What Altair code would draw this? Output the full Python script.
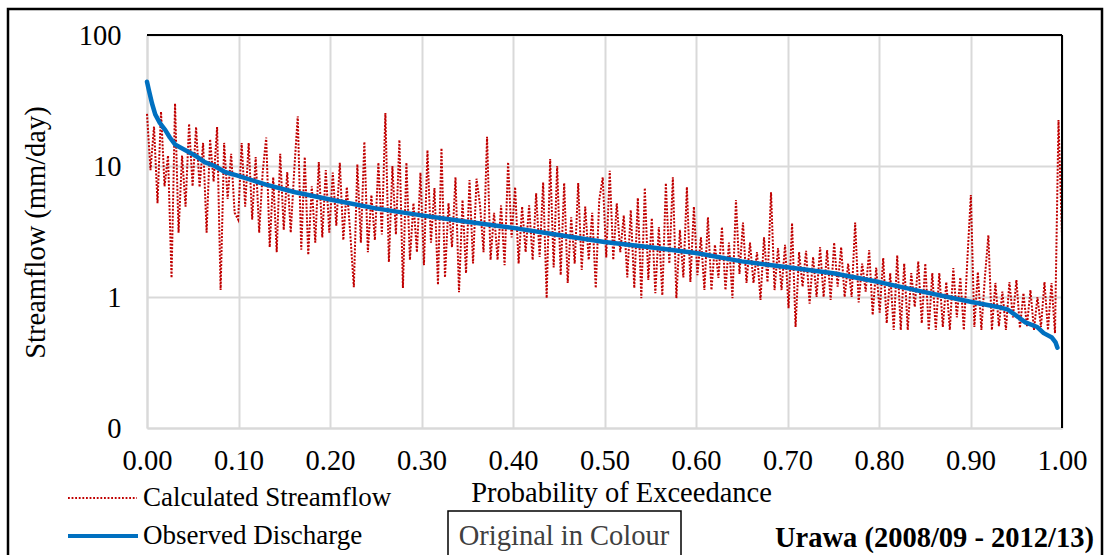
import altair as alt
import pandas as pd

# Calculated streamflow (mm/day), read left to right along the exceedance axis
calc_flow = [
    25, 9.3, 20, 5.2, 26, 7, 12, 1.4, 30, 3.1, 12, 4.9, 21,
    7, 19.8, 6.9, 15, 3.1, 16, 7.6, 19.8, 1.13, 15, 5.6, 12.4, 4.4,
    3.9, 15, 4.9, 15, 3.9, 11.7, 3.1, 9, 16.5, 2.4, 8.2, 2.2, 12.4,
    3.25, 9, 3.1, 9.3, 24, 2.3, 11.7, 2.1, 7, 2.6, 10.7, 2.85, 9.3,
    3.1, 8.9, 3.5, 10.6, 2.72, 6.9, 3, 1.19, 10.3, 2.6, 15.3, 2.2, 6,
    2.72, 10.6, 3, 25.4, 1.85, 10, 3, 15.8, 1.17, 10.6, 1.92, 5.2, 2.2,
    8.9, 1.75, 13.2, 2.6, 6.8, 1.24, 13.7, 1.41, 5.2, 2.4, 8.2, 1.09, 5.5,
    1.52, 7.8, 1.8, 8, 5, 2.2, 16.7, 1.92, 4.4, 1.92, 5, 1.75, 10.7,
    2.85, 6.9, 1.8, 4.9, 2.2, 5.0, 1.92, 6.2, 2.02, 7.5, 0.98, 11.3, 1.68,
    10, 1.47, 7.4, 1.28, 4.06, 1.8, 7.4, 1.61, 4.9, 1.92, 4.4, 1.17, 5.5,
    8.2, 2.0, 9.2, 1.92, 5.2, 2.2, 4.2, 1.41, 4.6, 1.17, 5.7, 0.98, 6.8,
    1.35, 4, 1.07, 3.42, 1.03, 7.4, 1.8, 8.2, 0.98, 3.25, 1.41, 6.9, 1.3,
    4.9, 1.47, 2.85, 1.13, 4.06, 1.13, 2.5, 1.4, 3.42, 1.13, 2.6, 0.98, 5.5,
    1.5, 3.7, 1.28, 2.6, 1.28, 2.2, 0.95, 2.85, 1.3, 6.3, 1.13, 2.36, 1.13,
    2.5, 0.82, 3.66, 0.59, 2.2, 1.2, 2.25, 0.89, 2.02, 1.0, 2.4, 1.0, 2.28,
    0.95, 2.6, 1.2, 2.4, 1.0, 1.8, 1.0, 3.7, 0.91, 1.8, 1.1, 2.28, 0.73,
    1.68, 0.76, 1.98, 0.63, 1.52, 0.56, 2.08, 0.56, 1.8, 0.56, 1.52, 0.84, 1.87,
    0.63, 1.8, 0.56, 1.52, 0.56, 1.52, 0.59, 1.3, 0.56, 1.66, 0.7, 1.41, 0.56,
    1.92, 6.0, 0.59, 1.55, 0.56, 1.41, 2.96, 0.56, 1.28, 0.6, 1.1, 0.56, 1.3,
    0.7, 1.35, 0.58, 1.07, 0.6, 1.13, 0.56, 1.0, 0.59, 1.3, 0.56, 1.28, 0.53, 22.4, 2.9,
]

# Observed discharge (flow duration curve)
obs_prob = [0.0, 0.002, 0.0055, 0.009, 0.014, 0.02, 0.025, 0.031, 0.042, 0.052,
            0.063, 0.074, 0.085, 0.1, 0.13, 0.162, 0.2, 0.25, 0.3, 0.35,
            0.4, 0.45, 0.5, 0.55, 0.6, 0.65, 0.7, 0.75, 0.8, 0.85,
            0.9, 0.93, 0.941, 0.95, 0.96, 0.973, 0.98, 0.989, 0.993, 0.995]
obs_flow = [44, 38, 30, 24.8, 21.3, 18.8, 16.5, 14.5, 13.2, 12.1,
            10.7, 10.0, 9.0, 8.4, 7.2, 6.3, 5.55, 4.75, 4.2, 3.75,
            3.37, 2.97, 2.63, 2.4, 2.17, 1.87, 1.69, 1.52, 1.30, 1.09,
            0.92, 0.84, 0.80, 0.72, 0.64, 0.59, 0.53, 0.49, 0.45, 0.41]

x_ticks = [0.0, 0.1, 0.2, 0.3, 0.4, 0.5, 0.6, 0.7, 0.8, 0.9, 1.0]
y_ticks = [0.1, 1, 10, 100]
legend_labels = ["Calculated Streamflow", "Observed Discharge"]
note_text = "Original in Colour"
site_text = "Urawa (2008/09 - 2012/13)"

FONT = "Liberation Serif, Times New Roman, serif"
FS = 28.5
LFS = 27

n = len(calc_flow)
calc_df = pd.DataFrame({"prob": [i / (n - 1) for i in range(n)], "flow": calc_flow})
obs_df = pd.DataFrame({"prob": obs_prob, "flow": obs_flow})
one = pd.DataFrame({"k": [0]})

xenc = alt.X("prob:Q",
             scale=alt.Scale(domain=[0, 1], nice=False, zero=False),
             axis=alt.Axis(values=x_ticks, format=".2f", title="Probability of Exceedance",
                           labelBaseline="middle", labelPadding=32, labelFlush=False,
                           titleX=474, titleY=64, titleBaseline="middle", titleAlign="center"))
yenc = alt.Y("flow:Q",
             scale=alt.Scale(type="log", domain=[0.1, 100], nice=False),
             axis=alt.Axis(values=y_ticks,
                           labelExpr="datum.value < 1 ? '0' : format(datum.value, 'd')",
                           labelPadding=26, labelFlush=False, title="Streamflow (mm/day)",
                           titleX=-112, titleY=197, titleAngle=270,
                           titleBaseline="middle", titleAlign="center"))

calc_line = alt.Chart(calc_df).mark_line(
    color="#C00000", strokeWidth=2, strokeDash=[2, 1.5]
).encode(x=xenc, y=yenc)

obs_line = alt.Chart(obs_df).mark_line(
    color="#0070C0", strokeWidth=4.5, strokeCap="round", strokeJoin="round"
).encode(x="prob:Q", y="flow:Q")

top_border = alt.Chart(one).mark_rule(color="black", strokeWidth=2).encode(
    x=alt.value(0), x2=alt.value(915), y=alt.value(0))
right_border = alt.Chart(one).mark_rule(color="black", strokeWidth=2).encode(
    x=alt.value(915), y=alt.value(0), y2=alt.value(393))

leg_calc = alt.Chart(one).mark_rule(color="#C00000", strokeWidth=1.8, strokeDash=[1.8, 1.8]).encode(
    x=alt.value(-79), x2=alt.value(-10), y=alt.value(463))
leg_obs = alt.Chart(one).mark_rule(color="#0070C0", strokeWidth=4).encode(
    x=alt.value(-79), x2=alt.value(-9), y=alt.value(501))
leg_t1 = alt.Chart(one).mark_text(align="left", baseline="middle", font=FONT, fontSize=LFS, color="black").encode(
    x=alt.value(-4), y=alt.value(463), text=alt.value(legend_labels[0]))
leg_t2 = alt.Chart(one).mark_text(align="left", baseline="middle", font=FONT, fontSize=LFS, color="black").encode(
    x=alt.value(-4), y=alt.value(501), text=alt.value(legend_labels[1]))

note_box = alt.Chart(one).mark_rect(fill=None, stroke="black", strokeWidth=1.5).encode(
    x=alt.value(301), x2=alt.value(534), y=alt.value(476), y2=alt.value(540))
note = alt.Chart(one).mark_text(align="center", baseline="middle", font=FONT, fontSize=FS, color="#404040").encode(
    x=alt.value(417), y=alt.value(501), text=alt.value(note_text))
site = alt.Chart(one).mark_text(align="right", baseline="middle", font=FONT, fontSize=FS,
                                fontWeight="bold", color="black").encode(
    x=alt.value(947), y=alt.value(503), text=alt.value(site_text))

frame = alt.Chart(one).mark_rect(fill=None, stroke="black", strokeWidth=2.5).encode(
    x=alt.value(-139), x2=alt.value(955), y=alt.value(-26), y2=alt.value(560))

chart = alt.layer(
    calc_line, obs_line, top_border, right_border,
    leg_calc, leg_obs, leg_t1, leg_t2, note_box, note, site, frame
).properties(
    width=915, height=393,
    autosize=alt.AutoSizeParams(type="none"),
    padding={"left": 147, "top": 35, "right": 43, "bottom": 127},
    background="white",
).configure_view(stroke=None).configure_axis(
    labelFont=FONT, labelFontSize=FS, labelColor="black",
    titleFont=FONT, titleFontSize=FS, titleColor="black", titleFontWeight="normal",
    gridColor="#D9D9D9", gridWidth=2, domainColor="#D9D9D9", domainWidth=2,
    ticks=False, tickSize=0,
)

chart.save("out.html", embed_options={"renderer": "svg", "actions": False})
